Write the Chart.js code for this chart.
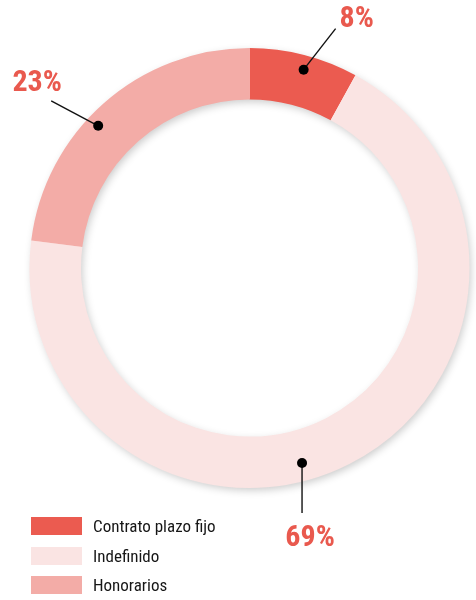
<!DOCTYPE html>
<html><head><meta charset="utf-8">
<script src="https://cdn.jsdelivr.net/npm/chart.js@4/dist/chart.umd.min.js"></script>
<style>
html,body{margin:0;padding:0;background:#fff;}
#wrap{position:relative;width:476px;height:600px;overflow:hidden;}
#c{position:absolute;left:0;top:0;}
#legend{position:absolute;left:31px;top:517px;font-family:'Liberation Sans Narrow','Roboto Condensed','DejaVu Sans Condensed',sans-serif;font-size:17px;color:#161616;}
.row{display:flex;align-items:center;height:18px;margin-bottom:11.5px;}
.box{width:51px;height:18px;margin-right:11px;}
</style></head>
<body><div id="wrap"><canvas id="c" width="476" height="600"></canvas><div id="legend"></div></div>
<script>
const categories = ['Contrato plazo fijo', 'Indefinido', 'Honorarios'];
const values = [8, 69, 23];
const valueLabels = ['8%', '69%', '23%'];
const colors = ['#EB5B50', '#FAE4E3', '#F3ACA7'];

// label placement (styling): fraction along arc angle, fraction across ring, line end offset, text offset
const labelPlacement = [
  {a:0.53, r:0.72, lx:32, ly:-41, tx:53, ty:-50},
  {a:0.548, r:0.65, lx:0, ly:50, tx:8, ty:75},
  {a:0.435, r:0.76, lx:-47, ly:-25, tx:-61, ty:-42}
];

const ringShadow = {
  id:'ringShadow',
  beforeDatasetsDraw(chart){
    const arc = chart.getDatasetMeta(0).data[0];
    if(!arc) return;
    const {x,y,innerRadius,outerRadius} = arc.getProps(['x','y','innerRadius','outerRadius'], true);
    const ctx = chart.ctx;
    ctx.save();
    ctx.shadowColor='rgba(0,0,0,0.22)';
    ctx.shadowBlur=9;
    ctx.shadowOffsetX=2;
    ctx.shadowOffsetY=3;
    ctx.fillStyle='#ffffff';
    ctx.beginPath();
    ctx.arc(x,y,outerRadius-1,0,Math.PI*2);
    ctx.arc(x,y,innerRadius+1,0,Math.PI*2,true);
    ctx.fill('evenodd');
    ctx.restore();
  }
};

const leaderLabels = {
  id:'leaderLabels',
  afterDatasetsDraw(chart){
    const ctx = chart.ctx;
    const meta = chart.getDatasetMeta(0);
    meta.data.forEach((arc,i)=>{
      const p = arc.getProps(['x','y','startAngle','endAngle','innerRadius','outerRadius'], true);
      const pl = labelPlacement[i];
      const ang = p.startAngle + pl.a*(p.endAngle-p.startAngle);
      const rad = p.innerRadius + pl.r*(p.outerRadius-p.innerRadius);
      const dx = p.x + Math.cos(ang)*rad;
      const dy = p.y + Math.sin(ang)*rad;
      ctx.save();
      ctx.strokeStyle='#111';
      ctx.lineWidth=1.4;
      ctx.beginPath();
      ctx.moveTo(dx,dy);
      ctx.lineTo(dx+pl.lx, dy+pl.ly);
      ctx.stroke();
      ctx.fillStyle='#000';
      ctx.beginPath();
      ctx.arc(dx,dy,5,0,Math.PI*2);
      ctx.fill();
      ctx.fillStyle='#E9594E';
      ctx.font="bold 30px 'Liberation Sans Narrow','Roboto Condensed','DejaVu Sans Condensed',sans-serif";
      ctx.textAlign='center';
      ctx.textBaseline='middle';
      ctx.fillText(valueLabels[i], dx+pl.tx, dy+pl.ty);
      ctx.restore();
    });
  }
};

new Chart(document.getElementById('c'), {
  type:'doughnut',
  data:{labels:categories, datasets:[{data:values, backgroundColor:colors, borderWidth:0, hoverOffset:0}]},
  options:{
    responsive:false,
    animation:false,
    cutout:'76.6%',
    layout:{padding:{left:29.5,top:48,right:6.5,bottom:112}},
    plugins:{legend:{display:false},tooltip:{enabled:false}}
  },
  plugins:[ringShadow, leaderLabels]
});

const lg = document.getElementById('legend');
categories.forEach((c,i)=>{
  const row=document.createElement('div');row.className='row';
  const b=document.createElement('div');b.className='box';b.style.background=colors[i];
  const t=document.createElement('span');t.textContent=c;
  row.appendChild(b);row.appendChild(t);lg.appendChild(row);
});
</script></body></html>
